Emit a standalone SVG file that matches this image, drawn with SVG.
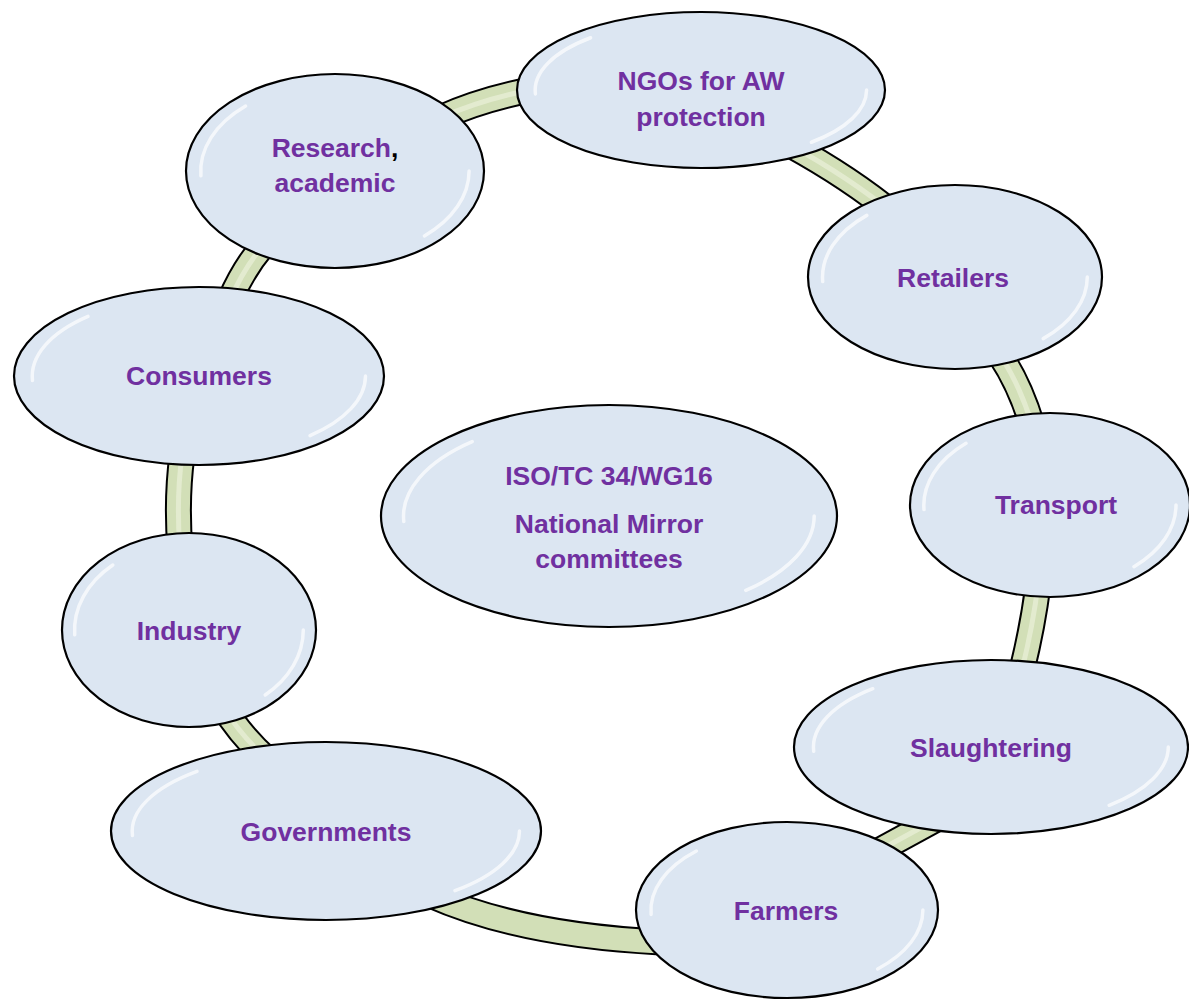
<svg xmlns="http://www.w3.org/2000/svg" width="1189" height="1000" viewBox="0 0 1189 1000">
<style>
.band-o{fill:none;stroke:#000;stroke-width:27;stroke-linecap:butt}
.band-i{fill:none;stroke:#d2dfb7;stroke-width:23;stroke-linecap:butt}
.band-h{fill:none;stroke:#eef4e0;stroke-width:5;stroke-linecap:butt;opacity:0.6}
.node{fill:#dce6f2;stroke:#000;stroke-width:2.2}
.gloss{fill:none;stroke:#fff;stroke-width:3.5;opacity:0.7;vector-effect:non-scaling-stroke;stroke-linecap:round}
.lbl{font-family:"Liberation Sans",Arial,sans-serif;font-weight:bold;font-size:26.5px;fill:#7030a0;text-anchor:middle}
</style>
<defs>
<g id="gl">
<path class="gloss" d="M -0.9 0.05 A 0.9 0.9 0 0 1 -0.6 -0.67"/>
<path class="gloss" d="M 0.9 0.0 A 0.9 0.9 0 0 1 0.6 0.67"/>
</g>
</defs>
<g id="connectors">
<g id="c1"><path class="band-o" d="M 440 118 Q 480 100 530 90"/><path class="band-i" d="M 440 118 Q 480 100 530 90"/><path class="band-h" d="M 440 118 Q 480 100 530 90"/></g>
<g id="c2"><path class="band-o" d="M 790 145 Q 850 178 895 215"/><path class="band-i" d="M 790 145 Q 850 178 895 215"/><path class="band-h" d="M 790 145 Q 850 178 895 215"/></g>
<g id="c3"><path class="band-o" d="M 1000 355 Q 1020 385 1032 425"/><path class="band-i" d="M 1000 355 Q 1020 385 1032 425"/><path class="band-h" d="M 1000 355 Q 1020 385 1032 425"/></g>
<g id="c4"><path class="band-o" d="M 1038 585 Q 1033 625 1022 670"/><path class="band-i" d="M 1038 585 Q 1033 625 1022 670"/><path class="band-h" d="M 1038 585 Q 1033 625 1022 670"/></g>
<g id="c5"><path class="band-o" d="M 880 850 L 935 820"/><path class="band-i" d="M 880 850 L 935 820"/><path class="band-h" d="M 880 850 L 935 820"/></g>
<g id="c6"><path class="band-o" d="M 430 895 Q 520 935 660 942"/><path class="band-i" d="M 430 895 Q 520 935 660 942"/></g>
<g id="c7"><path class="band-o" d="M 222 705 Q 240 735 268 760"/><path class="band-i" d="M 222 705 Q 240 735 268 760"/><path class="band-h" d="M 222 705 Q 240 735 268 760"/></g>
<g id="c8"><path class="band-o" d="M 182 455 Q 176 500 180 550"/><path class="band-i" d="M 182 455 Q 176 500 180 550"/><path class="band-h" d="M 182 455 Q 176 500 180 550"/></g>
<g id="c9"><path class="band-o" d="M 230 300 Q 245 265 268 240"/><path class="band-i" d="M 230 300 Q 245 265 268 240"/><path class="band-h" d="M 230 300 Q 245 265 268 240"/></g>
</g>
<g id="research"><ellipse class="node" cx="335" cy="171" rx="149" ry="97"/><use href="#gl" transform="translate(335 171) scale(149 97)"/>
<text class="lbl" x="335" y="157">Research<tspan fill="#000">,</tspan></text><text class="lbl" x="335" y="192">academic</text></g>
<g id="ngos"><ellipse class="node" cx="701" cy="90" rx="184" ry="78"/><use href="#gl" transform="translate(701 90) scale(184 78)"/>
<text class="lbl" x="701" y="90">NGOs for AW</text><text class="lbl" x="701" y="126">protection</text></g>
<g id="retailers"><ellipse class="node" cx="955" cy="277" rx="147" ry="92"/><use href="#gl" transform="translate(955 277) scale(147 92)"/>
<text class="lbl" x="953" y="287">Retailers</text></g>
<g id="consumers"><ellipse class="node" cx="199" cy="376" rx="185" ry="89"/><use href="#gl" transform="translate(199 376) scale(185 89)"/>
<text class="lbl" x="199" y="385">Consumers</text></g>
<g id="iso"><ellipse class="node" cx="609" cy="516" rx="228" ry="111"/><use href="#gl" transform="translate(609 516) scale(228 111)"/>
<text class="lbl" x="609" y="485">ISO/TC 34/WG16</text><text class="lbl" x="609" y="533">National Mirror</text><text class="lbl" x="609" y="568">committees</text></g>
<g id="transport"><ellipse class="node" cx="1050" cy="505" rx="140" ry="92"/><use href="#gl" transform="translate(1050 505) scale(140 92)"/>
<text class="lbl" x="1056" y="514">Transport</text></g>
<g id="industry"><ellipse class="node" cx="189" cy="630" rx="127" ry="97"/><use href="#gl" transform="translate(189 630) scale(127 97)"/>
<text class="lbl" x="189" y="640">Industry</text></g>
<g id="slaughtering"><ellipse class="node" cx="991" cy="747" rx="197" ry="87"/><use href="#gl" transform="translate(991 747) scale(197 87)"/>
<text class="lbl" x="991" y="757">Slaughtering</text></g>
<g id="governments"><ellipse class="node" cx="326" cy="831" rx="215" ry="89"/><use href="#gl" transform="translate(326 831) scale(215 89)"/>
<text class="lbl" x="326" y="841">Governments</text></g>
<g id="farmers"><ellipse class="node" cx="787" cy="910" rx="151" ry="88"/><use href="#gl" transform="translate(787 910) scale(151 88)"/>
<text class="lbl" x="786" y="920">Farmers</text></g>
</svg>
